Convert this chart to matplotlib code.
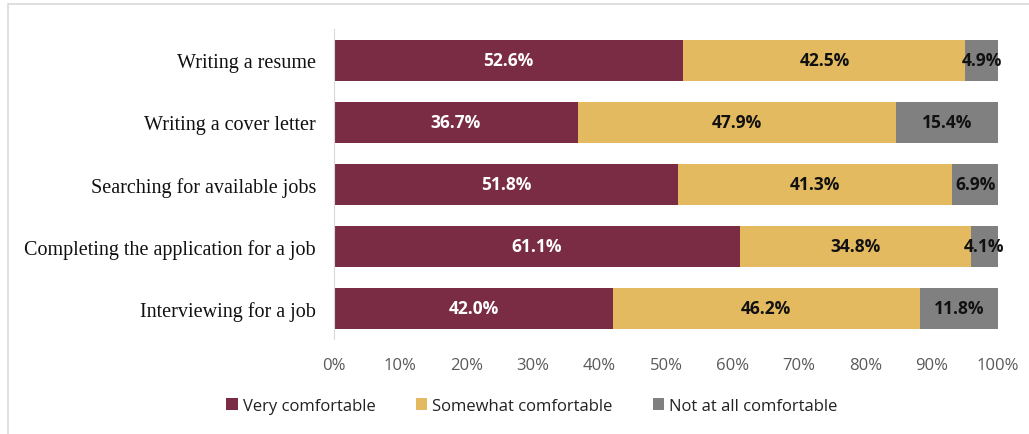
import matplotlib
matplotlib.use("Agg")
import matplotlib.pyplot as plt
import numpy as np
from matplotlib.patches import Rectangle

categories = ["Writing a resume", "Writing a cover letter", "Searching for available jobs",
              "Completing the application for a job", "Interviewing for a job"]
very = [52.6, 36.7, 51.8, 61.1, 42.0]
somewhat = [42.5, 47.9, 41.3, 34.8, 46.2]
not_at_all = [4.9, 15.4, 6.9, 4.1, 11.8]
series_names = ["Very comfortable", "Somewhat comfortable", "Not at all comfortable"]
colors = ["#7B2C45", "#E3BA5F", "#808080"]
text_colors = ["white", "#111111", "#111111"]

fig = plt.figure(figsize=(10.29, 4.35), dpi=100)
ax = fig.add_axes([0.3246, 0.218, 0.6453, 0.713])

fig.patches.append(Rectangle((8 / 1029, -0.1), 1.1, 1 - 5 / 435 + 0.1, transform=fig.transFigure,
                             fill=False, edgecolor="#D9D9D9", lw=1.2))

y = np.arange(len(categories))
left = np.zeros(len(categories))
for vals, name, c, tc in zip([very, somewhat, not_at_all], series_names, colors, text_colors):
    vals = np.array(vals)
    bars = ax.barh(y, vals, left=left, height=0.66, color=c, label=name)
    for b, v in zip(bars, vals):
        ax.text(b.get_x() + b.get_width() / 2, b.get_y() + b.get_height() / 2, f"{v:.1f}%",
                ha="center", va="center", color=tc, fontsize=12.5, fontweight="bold",
                family="Open Sans")
    left += vals

ax.set_ylim(len(categories) - 0.5, -0.5)
ax.set_xlim(0, 100)
ax.set_yticks(y)
ax.set_yticklabels(categories, family="Liberation Serif", fontsize=14.5, color="#111111")
ax.set_xticks(np.arange(0, 101, 10))
ax.set_xticklabels([f"{t}%" for t in range(0, 101, 10)], family="Open Sans", fontsize=12,
                   color="#595959")
ax.tick_params(axis="both", length=0)
ax.tick_params(axis="x", pad=13)
ax.tick_params(axis="y", pad=13)
for s in ["top", "right", "bottom"]:
    ax.spines[s].set_visible(False)
ax.spines["left"].set_color("#D9D9D9")

leg = fig.legend(loc="center", bbox_to_anchor=(0.517, 1 - 407 / 435), ncol=3, frameon=False,
                 handlelength=0.7, handleheight=0.7, handletextpad=0.3, columnspacing=2.4,
                 prop={"family": "Open Sans", "size": 12})
for t in leg.get_texts():
    t.set_color("#222222")

fig.savefig("out.png", dpi=100)
